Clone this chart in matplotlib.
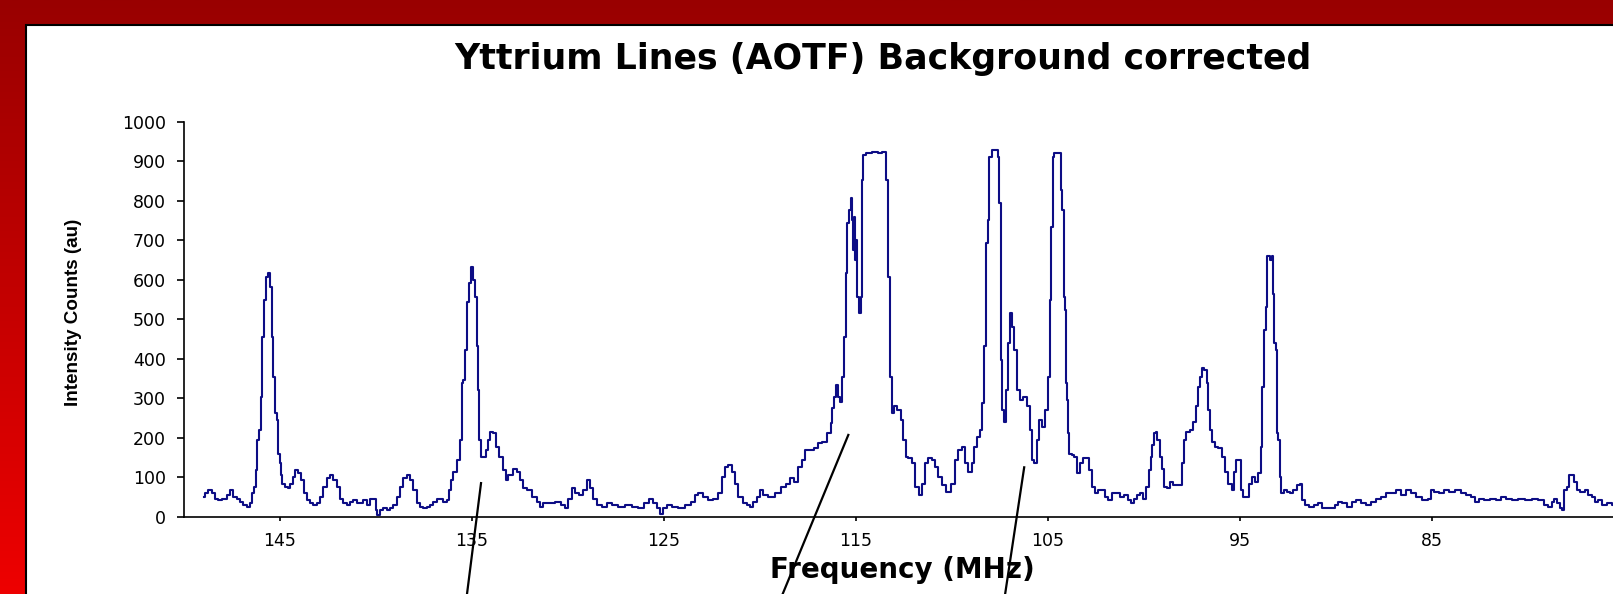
"""Yttrium emission lines scanned with the AOTF, background corrected."""
import matplotlib.pyplot as plt
import numpy as np
from matplotlib.colors import LinearSegmentedColormap
from matplotlib.patches import Rectangle

# AOTF drive frequency (MHz), high to low, and background-corrected counts
FREQ_MHZ = [
    148.96, 148.82, 148.65, 148.47, 148.30, 148.13, 147.95, 147.78, 147.69, 147.52,
    147.35, 147.17, 147.00, 146.82, 146.65, 146.48, 146.39, 146.30, 146.22, 146.13,
    146.04, 145.96, 145.87, 145.78, 145.70, 145.58, 145.47, 145.40, 145.30, 145.23,
    145.12, 145.05, 144.97, 144.92, 144.83, 144.66, 144.53, 144.39, 144.26, 144.13,
    143.96, 143.84, 143.70, 143.53, 143.35, 143.18, 143.01, 142.83, 142.66, 142.48,
    142.31, 142.14, 141.96, 141.79, 141.62, 141.44, 141.27, 141.10, 140.92, 140.75,
    140.58, 140.40, 140.23, 140.05, 139.97, 139.88, 139.71, 139.53, 139.36, 139.19,
    139.01, 138.84, 138.67, 138.49, 138.32, 138.14, 137.97, 137.80, 137.62, 137.45,
    137.28, 137.10, 136.93, 136.76, 136.58, 136.41, 136.23, 136.15, 136.06, 135.89,
    135.71, 135.58, 135.51, 135.40, 135.33, 135.23, 135.11, 134.98, 134.90, 134.80,
    134.72, 134.65, 134.58, 134.46, 134.35, 134.23, 134.15, 134.01, 133.80, 133.66,
    133.49, 133.31, 133.19, 133.02, 132.76, 132.58, 132.41, 132.24, 131.98, 131.72,
    131.54, 131.37, 131.19, 130.85, 130.50, 130.24, 130.07, 129.89, 129.72, 129.55,
    129.28, 129.11, 128.94, 128.76, 128.59, 128.42, 128.07, 127.90, 127.55, 127.20,
    126.85, 126.51, 126.16, 125.90, 125.64, 125.47, 125.29, 125.12, 124.94, 124.77,
    124.42, 124.08, 123.73, 123.47, 123.29, 123.12, 122.86, 122.60, 122.34, 122.08,
    121.91, 121.73, 121.56, 121.39, 121.21, 121.04, 120.78, 120.60, 120.43, 120.26,
    120.08, 119.94, 119.74, 119.39, 119.05, 118.79, 118.52, 118.35, 118.09, 117.92,
    117.74, 117.57, 117.31, 117.05, 116.88, 116.62, 116.35, 116.27, 116.18, 116.09,
    116.01, 115.89, 115.75, 115.66, 115.57, 115.49, 115.40, 115.31, 115.23, 115.17,
    115.12, 115.09, 115.02, 114.97, 114.88, 114.79, 114.74, 114.67, 114.57, 114.36,
    114.01, 113.75, 113.49, 113.40, 113.28, 113.18, 113.06, 112.93, 112.83, 112.71,
    112.62, 112.48, 112.36, 112.19, 112.01, 111.84, 111.61, 111.49, 111.32, 111.15,
    110.97, 110.80, 110.63, 110.45, 110.19, 109.93, 109.76, 109.58, 109.41, 109.24,
    109.06, 108.89, 108.80, 108.63, 108.46, 108.37, 108.28, 108.19, 108.11, 108.02,
    107.85, 107.67, 107.59, 107.50, 107.41, 107.33, 107.24, 107.10, 107.03, 106.89,
    106.81, 106.68, 106.55, 106.37, 106.20, 106.03, 105.89, 105.77, 105.64, 105.54,
    105.42, 105.24, 105.07, 104.95, 104.88, 104.81, 104.72, 104.64, 104.38, 104.29,
    104.21, 104.15, 104.08, 104.03, 103.98, 103.91, 103.86, 103.69, 103.56, 103.42,
    103.25, 103.08, 102.90, 102.82, 102.64, 102.47, 102.30, 102.12, 101.95, 101.78,
    101.60, 101.34, 101.17, 100.91, 100.73, 100.61, 100.47, 100.30, 100.13, 99.95,
    99.81, 99.69, 99.61, 99.52, 99.43, 99.34, 99.26, 99.12, 99.00, 98.91,
    98.74, 98.56, 98.39, 98.08, 98.01, 97.87, 97.73, 97.52, 97.35, 97.21,
    97.14, 97.00, 96.91, 96.79, 96.69, 96.62, 96.52, 96.39, 96.22, 96.05,
    95.87, 95.70, 95.53, 95.35, 95.27, 95.13, 95.00, 94.92, 94.78, 94.61,
    94.48, 94.31, 94.14, 93.96, 93.88, 93.79, 93.70, 93.62, 93.56, 93.49,
    93.39, 93.32, 93.27, 93.18, 93.10, 93.04, 92.97, 92.90, 92.80, 92.66,
    92.49, 92.31, 92.14, 91.97, 91.79, 91.71, 91.53, 91.27, 91.01, 90.84,
    90.66, 90.40, 90.14, 89.97, 89.80, 89.54, 89.27, 89.10, 88.84, 88.58,
    88.31, 88.05, 87.79, 87.53, 87.27, 87.01, 86.75, 86.49, 86.23, 85.97,
    85.71, 85.36, 85.10, 84.98, 84.76, 84.50, 84.24, 83.97, 83.63, 83.37,
    83.11, 82.85, 82.67, 82.41, 82.15, 81.80, 81.54, 81.28, 81.02, 80.68,
    80.33, 79.98, 79.63, 79.29, 79.03, 78.85, 78.68, 78.56, 78.42, 78.25,
    78.16, 78.07, 77.90, 77.81, 77.64, 77.55, 77.38, 77.17, 76.94, 76.77,
    76.60, 76.42, 76.25, 75.99, 75.73, 75.57,
]
COUNTS = [
    51, 59, 68, 59, 46, 42, 46, 46, 55, 68,
    51, 46, 38, 30, 25, 34, 59, 76, 118, 194,
    219, 304, 456, 549, 608, 616, 582, 456, 354, 262,
    245, 160, 135, 105, 84, 76, 72, 84, 101, 118,
    110, 93, 59, 42, 34, 30, 34, 51, 76, 97,
    105, 93, 76, 46, 34, 30, 38, 42, 34, 34,
    42, 30, 46, 46, 17, 4, 17, 21, 17, 21,
    30, 51, 76, 97, 105, 93, 68, 34, 25, 21,
    25, 30, 38, 46, 46, 38, 42, 68, 93, 114,
    143, 194, 338, 346, 422, 544, 591, 633, 600, 557,
    431, 321, 194, 152, 152, 169, 194, 215, 211, 177,
    152, 118, 93, 105, 122, 114, 93, 72, 68, 51,
    38, 25, 34, 34, 38, 30, 21, 46, 72, 59,
    55, 68, 93, 72, 46, 30, 25, 34, 30, 25,
    30, 25, 21, 34, 46, 34, 21, 8, 21, 30,
    25, 21, 30, 38, 55, 59, 51, 42, 46, 59,
    101, 127, 131, 114, 84, 51, 34, 30, 25, 38,
    51, 68, 55, 51, 59, 76, 84, 97, 88, 127,
    143, 169, 169, 173, 186, 190, 211, 236, 274, 304,
    333, 304, 291, 354, 456, 616, 743, 776, 806, 751,
    675, 759, 650, 700, 557, 515, 557, 852, 916, 920,
    924, 920, 924, 852, 608, 354, 262, 279, 270, 270,
    245, 194, 152, 148, 135, 76, 55, 84, 135, 148,
    143, 127, 101, 80, 63, 84, 143, 169, 177, 135,
    114, 135, 177, 203, 219, 287, 431, 692, 751, 911,
    928, 928, 911, 793, 397, 270, 240, 321, 439, 515,
    481, 422, 321, 295, 304, 279, 219, 143, 135, 194,
    245, 228, 270, 354, 549, 734, 911, 920, 920, 827,
    776, 557, 523, 338, 295, 211, 160, 156, 152, 110,
    135, 148, 148, 118, 76, 59, 68, 68, 51, 42,
    59, 59, 51, 55, 42, 34, 46, 55, 59, 46,
    76, 118, 152, 181, 211, 215, 194, 152, 122, 76,
    72, 89, 80, 80, 135, 194, 215, 219, 240, 279,
    329, 354, 376, 371, 338, 270, 219, 190, 177, 173,
    152, 114, 84, 68, 114, 143, 143, 68, 51, 51,
    84, 101, 89, 110, 177, 329, 473, 532, 659, 659,
    650, 659, 565, 439, 422, 211, 194, 101, 59, 68,
    63, 59, 68, 80, 84, 42, 30, 25, 30, 34,
    21, 21, 21, 30, 38, 34, 25, 38, 42, 34,
    30, 38, 46, 51, 59, 59, 68, 55, 68, 59,
    51, 42, 46, 68, 63, 59, 68, 63, 68, 59,
    55, 51, 38, 46, 42, 46, 42, 51, 46, 42,
    46, 42, 46, 42, 30, 25, 38, 46, 34, 21,
    17, 68, 76, 105, 105, 89, 68, 63, 68, 55,
    51, 38, 42, 30, 34, 30,
]

X_TICKS = [145, 135, 125, 115, 105, 95, 85, 75]
Y_TICKS = [0, 100, 200, 300, 400, 500, 600, 700, 800, 900, 1000]

# leader lines pointing down from three lines to the slide below
LEADER_TOP_F = [134.53, 115.40, 106.24]
LEADER_TOP_C = [85, 207, 125]
LEADER_END_F = [135.30, 118.95, 107.28]
LEADER_END_C = [-211, -211, -211]

plt.rcParams["font.family"] = ["DejaVu Sans"]

fig = plt.figure(figsize=(16.13, 5.94), dpi=100)

# slide background: red gradient with a white panel
bg = fig.add_axes([0, 0, 1, 1], zorder=-5)
grad = np.linspace(0, 1, 256).reshape(-1, 1)
reds = LinearSegmentedColormap.from_list("slide", ["#990000", "#ee0000"])
bg.imshow(grad, aspect="auto", cmap=reds, extent=[0, 1, 0, 1], origin="upper")
bg.add_patch(Rectangle((26 / 1613, -0.05), 1.0, 1 - 25 / 594 + 0.05,
                       facecolor="white", edgecolor="black", linewidth=1.5))
bg.set_xlim(0, 1)
bg.set_ylim(0, 1)
bg.axis("off")

ax = fig.add_axes([184 / 1613, 1 - 516.7 / 594, 1440 / 1613, 395 / 594])
ax.set_facecolor("none")
ax.step(FREQ_MHZ, COUNTS, where="mid", color="#0d0d85", linewidth=1.5)

for f0, c0, f1, c1 in zip(LEADER_TOP_F, LEADER_TOP_C, LEADER_END_F, LEADER_END_C):
    ax.plot([f0, f1], [c0, c1], color="black", linewidth=1.6, clip_on=False)

ax.set_xlim(150, 75)
ax.set_ylim(0, 1000)
ax.set_xticks(X_TICKS)
ax.set_yticks(Y_TICKS)
for side in ("top", "right"):
    ax.spines[side].set_visible(False)
for side in ("left", "bottom"):
    ax.spines[side].set_linewidth(1.2)
ax.tick_params(axis="y", direction="out", length=5, width=1.2, pad=8, labelsize=12.5)
ax.tick_params(axis="x", direction="out", length=3, width=1.2, pad=8, labelsize=12.5)

fig.text(883 / 1613, 1 - 59 / 594, "Yttrium Lines (AOTF) Background corrected",
         ha="center", va="center", fontsize=25, fontweight="bold")
fig.text(902 / 1613, 1 - 570 / 594, "Frequency (MHz)",
         ha="center", va="center", fontsize=20, fontweight="bold")
fig.text(74 / 1613, 1 - 312 / 594, "Intensity Counts (au)", rotation=90,
         ha="center", va="center", fontsize=13.6, fontweight="bold",
         family=["Liberation Sans", "DejaVu Sans"])

fig.savefig("out.png", dpi=100)
